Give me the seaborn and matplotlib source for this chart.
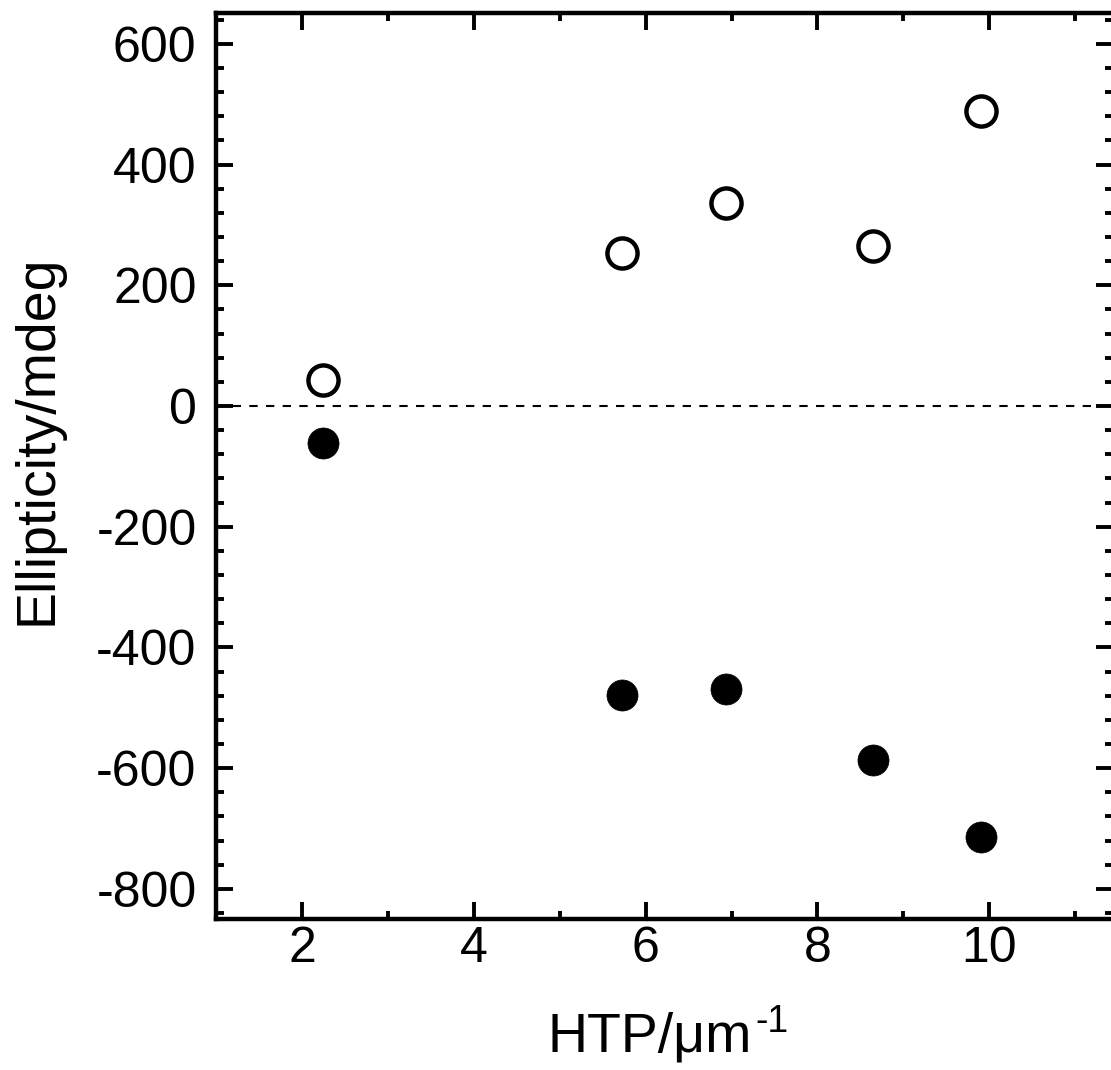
import numpy as np
import pandas as pd
import matplotlib
matplotlib.use("Agg")
import matplotlib.pyplot as plt
import seaborn as sns
from matplotlib.ticker import MultipleLocator

# Data
htp = [2.24, 5.73, 6.93, 8.65, 9.90]
ellipticity_pos = [43, 254, 336, 265, 489]
ellipticity_neg = [-61, -479, -469, -587, -714]

df = pd.DataFrame({
    "HTP": htp + htp,
    "Ellipticity": ellipticity_pos + ellipticity_neg,
    "Series": ["open"] * len(htp) + ["filled"] * len(htp),
})

sns.set_theme(style="ticks")
plt.rcParams["font.family"] = ["Liberation Sans", "DejaVu Sans"]
plt.rcParams["axes.unicode_minus"] = False
plt.rcParams["text.color"] = "black"
plt.rcParams["axes.labelcolor"] = "black"
plt.rcParams["xtick.labelcolor"] = "black"
plt.rcParams["ytick.labelcolor"] = "black"

fig = plt.figure(figsize=(11.11, 10.70), dpi=100)
ax = fig.add_axes([216 / 1111, 1 - 919 / 1070, (1113 - 216) / 1111, (919 - 13) / 1070])

sns.scatterplot(data=df[df["Series"] == "open"], x="HTP", y="Ellipticity", ax=ax,
                marker="o", s=470, facecolor="white", edgecolor="black",
                linewidth=3.2, zorder=3, legend=False)
sns.scatterplot(data=df[df["Series"] == "filled"], x="HTP", y="Ellipticity", ax=ax,
                marker="o", s=500, color="black", edgecolor="black",
                linewidth=0.5, zorder=3, legend=False)

ax.axhline(0, color="black", linestyle=(0, (4, 4)), linewidth=1.5, zorder=1)

ax.set_xlim(1, 11.44)
ax.set_ylim(-850, 651)
ax.xaxis.set_major_locator(MultipleLocator(2))
ax.xaxis.set_minor_locator(MultipleLocator(1))
ax.yaxis.set_major_locator(MultipleLocator(200))
ax.yaxis.set_minor_locator(MultipleLocator(40))

for s in ax.spines.values():
    s.set_linewidth(3.2)
    s.set_color("black")

ax.tick_params(which="both", direction="in", top=True, right=True, color="black",
               labelcolor="black")
ax.tick_params(which="major", length=12, width=2.8, labelsize=36)
ax.tick_params(which="minor", length=6, width=2.8)
ax.tick_params(axis="y", which="major", pad=14)
ax.tick_params(axis="x", which="major", pad=5)

ax.set_xlabel("HTP/\u03bcm", fontsize=40, color="black")
ax.set_ylabel("Ellipticity/mdeg", fontsize=40, color="black")
ax.xaxis.set_label_coords(0.4838, -0.102)
ax.yaxis.set_label_coords(-0.1695, 0.529)

# superscript with a plain hyphen, as in the original
ax.annotate("-1", xy=(1, 1), xycoords=ax.xaxis.label, xytext=(2, 5.5),
            textcoords="offset points", fontsize=27, ha="left", va="top")

fig.savefig("out.png", dpi=100)
